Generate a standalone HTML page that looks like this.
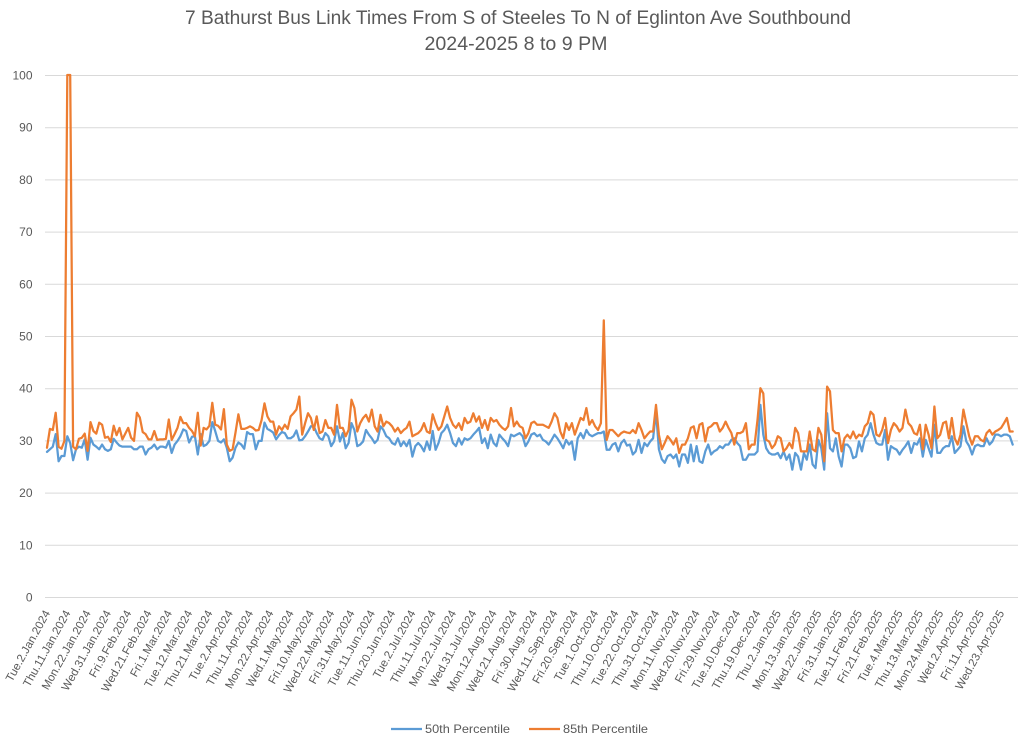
<!DOCTYPE html>
<html><head><meta charset="utf-8"><style>
html,body{margin:0;padding:0;background:#fff;}
svg{display:block;}
text{font-family:"Liberation Sans",Arial,sans-serif;fill:#595959;}
</style></head><body>
<svg width="1024" height="743" viewBox="0 0 1024 743" xmlns="http://www.w3.org/2000/svg">
<rect width="1024" height="743" fill="#fff"/>
<text x="518" y="24" font-size="19" text-anchor="middle" textLength="666" lengthAdjust="spacingAndGlyphs">7 Bathurst Bus Link Times From S of Steeles To N of Eglinton Ave Southbound</text>
<text x="516" y="50" font-size="19" text-anchor="middle" textLength="183" lengthAdjust="spacingAndGlyphs">2024-2025 8 to 9 PM</text>
<g stroke="#D9D9D9" stroke-width="1">
<line x1="45" y1="75.5" x2="1018" y2="75.5"/>
<line x1="45" y1="127.7" x2="1018" y2="127.7"/>
<line x1="45" y1="179.9" x2="1018" y2="179.9"/>
<line x1="45" y1="232.1" x2="1018" y2="232.1"/>
<line x1="45" y1="284.3" x2="1018" y2="284.3"/>
<line x1="45" y1="336.5" x2="1018" y2="336.5"/>
<line x1="45" y1="388.7" x2="1018" y2="388.7"/>
<line x1="45" y1="440.9" x2="1018" y2="440.9"/>
<line x1="45" y1="493.1" x2="1018" y2="493.1"/>
<line x1="45" y1="545.3" x2="1018" y2="545.3"/>
<line x1="45" y1="597.5" x2="1018" y2="597.5"/>
</g>
<g font-size="12" text-anchor="end">
<text x="32.5" y="79.5">100</text>
<text x="32.5" y="131.7">90</text>
<text x="32.5" y="183.9">80</text>
<text x="32.5" y="236.1">70</text>
<text x="32.5" y="288.3">60</text>
<text x="32.5" y="340.5">50</text>
<text x="32.5" y="392.7">40</text>
<text x="32.5" y="444.9">30</text>
<text x="32.5" y="497.1">20</text>
<text x="32.5" y="549.3">10</text>
<text x="32.5" y="601.5">0</text>
</g>
<g transform="matrix(2.9,0,0,-5.22,47,597)" fill="none" stroke-linejoin="round" stroke-linecap="round">
<polyline vector-effect="non-scaling-stroke" stroke="#5B9BD5" stroke-width="2.25" points="0,27.8 1,28.3 2,28.8 3,31.2 4,26 5,27 6,27 7,30.8 8,29.5 9,26.2 10,28.3 11,28.8 12,28.6 13,30.2 14,26.3 15,30.5 16,29.2 17,28.8 18,28.3 19,29.2 20,28.3 21,28 22,28.3 23,30.3 24,29.6 25,29 26,28.8 27,28.8 28,28.8 29,28.8 30,28.3 31,28.3 32,28.8 33,28.8 34,27.3 35,28.3 36,28.6 37,29.2 38,28.3 39,28.8 40,28.8 41,28.6 42,29.9 43,27.6 44,29.2 45,29.9 46,30.8 47,32.1 48,31.8 49,29.6 50,30.7 51,30.8 52,27.3 53,31.2 54,28.9 55,29.2 56,29.9 57,33.5 58,31.8 59,29.9 60,29.6 61,30.2 62,28.6 63,26 64,26.7 65,28.6 66,29.6 67,29.2 68,28.4 69,31.6 70,31.2 71,31.2 72,28.3 73,29.9 74,29.9 75,33.4 76,32.2 77,31.9 78,31.5 79,30.2 80,31 81,31.6 82,31.4 83,30.4 84,30.4 85,30.8 86,31.9 87,30 88,30.1 89,30.8 90,31.7 91,32.7 92,32.7 93,31.4 94,30.4 95,30.1 96,31.4 97,30.8 98,28.9 99,29.8 100,32.7 101,29.8 102,31.4 103,28.5 104,29.5 105,33.3 106,32 107,28.9 108,29.2 109,29.8 110,32 111,31.1 112,30.4 113,29.5 114,30.1 115,32.7 116,32 117,30.8 118,30.4 119,29.5 120,29.2 121,30.4 122,28.9 123,29.8 124,28.9 125,30.1 126,26.9 127,28.9 128,29.5 129,28.9 130,27.9 131,29.8 132,28.2 133,31.8 134,28.2 135,29.5 136,31.4 137,32 138,33 139,31.4 140,29.5 141,28.9 142,30.4 143,29.2 144,30.4 145,30.1 146,30.4 147,31.1 148,31.7 149,32.4 150,29.5 151,30.4 152,28.5 153,31.1 154,29.5 155,28.9 156,31.1 157,30.4 158,29.8 159,28.9 160,31.1 161,30.8 162,31.1 163,31.4 164,30.8 165,28.9 166,29.8 167,31.1 168,31.4 169,30.8 170,31.1 171,30.1 172,29.8 173,29.2 174,30.1 175,31.1 176,30.4 177,29.5 178,28.5 179,30.1 180,29.2 181,29.8 182,26.3 183,30.4 184,31.4 185,30.4 186,32 187,31.1 188,30.8 189,31.1 190,31.4 191,31.4 192,31.7 193,28.2 194,28.2 195,29.2 196,29.5 197,27.9 198,29.5 199,30.1 200,29 201,29.2 202,27.3 203,27.9 204,30.1 205,27.6 206,29.5 207,28.9 208,29.8 209,30.4 210,35.5 211,28.3 212,26.4 213,25.7 214,27 215,27.3 216,26.6 217,27.3 218,25 219,27.3 220,27.3 221,25.7 222,29.2 223,26 224,28.9 225,26 226,25.7 227,27.9 228,29.2 229,27.3 230,27.9 231,28.2 232,28.9 233,28.5 234,29.2 235,29.2 236,30.1 237,30.4 238,29.5 239,28.9 240,26.3 241,26.3 242,27.3 243,27.3 244,27.3 245,27.9 246,36.8 247,31.1 248,28.5 249,27.6 250,27.3 251,27.3 252,27.6 253,26.6 254,27.9 255,26.3 256,27.3 257,24.4 258,27.6 259,26.9 260,24.4 261,27.6 262,26.3 263,29.2 264,25.4 265,24.7 266,30.1 267,28.5 268,24.4 269,35.2 270,28.5 271,27.9 272,30.4 273,26.9 274,25 275,29.2 276,29.2 277,28.5 278,26.6 279,26.9 280,29.8 281,27.9 282,30.4 283,31.1 284,33.3 285,31.1 286,29.5 287,29.2 288,29.2 289,32 290,26.3 291,28.9 292,28.5 293,28.2 294,27.3 295,28.2 296,28.9 297,29.8 298,27.6 299,29.5 300,29.2 301,30.4 302,26.9 303,30.1 304,28.5 305,26.9 306,33 307,27.6 308,27.6 309,28.5 310,28.9 311,28.9 312,30.8 313,27.6 314,28.2 315,28.9 316,32.7 317,29.8 318,28.9 319,27.3 320,28.9 321,29.2 322,28.9 323,28.9 324,30.4 325,29.2 326,29.8 327,31.1 328,31.1 329,30.8 330,31.1 331,31.1 332,30.8 333,29.2"/>
<polyline vector-effect="non-scaling-stroke" stroke="#ED7D31" stroke-width="2.25" points="0,28.6 1,32.2 2,32 3,35.3 4,28.8 5,28.4 6,29.9 7,100 8,100 9,28.8 10,28.3 11,30.3 12,30.5 13,31.3 14,28 15,33.5 16,31.8 17,31.3 18,33.4 19,33 20,30.5 21,30.7 22,29.7 23,32.8 24,31 25,32.4 26,30.2 27,31.3 28,32.4 29,30.5 30,29.9 31,35.3 32,34.4 33,31.6 34,31.2 35,30.2 36,30.2 37,31.8 38,30.1 39,30.2 40,30.2 41,30.3 42,34 43,30.1 44,31.2 45,32.4 46,34.5 47,33.3 48,33.3 49,32.4 50,31.8 51,30.8 52,35.3 53,29 54,32.4 55,32.1 56,32.8 57,37.2 58,33 59,32.8 60,32.1 61,36 62,29.2 63,28 64,28.3 65,31.5 66,35 67,32.2 68,32.2 69,32.4 70,32.7 71,32.4 72,31.9 73,32 74,33.9 75,37.1 76,34.6 77,33.6 78,33.6 79,31.1 80,32.7 81,32 82,33 83,32.2 84,34.6 85,35.2 86,35.9 87,38.4 88,31.1 89,33.3 90,35.2 91,34.3 92,32 93,34.6 94,31.4 95,31.7 96,33.9 97,32.4 98,32.4 99,31.1 100,36.8 101,32.4 102,32.4 103,30.8 104,32 105,37.8 106,36.2 107,31.7 108,33.3 109,34.3 110,34.9 111,33.6 112,35.9 113,32.7 114,31.7 115,34.9 116,32.7 117,33.6 118,33.3 119,32.7 120,31.7 121,32.4 122,31.4 123,32 124,32.4 125,33.6 126,30.8 127,31.1 128,31.4 129,32 130,33.3 131,31.7 132,31.4 133,35 134,33.3 135,32 136,32.7 137,34.6 138,36.5 139,34.3 140,33 141,32.4 142,33.3 143,32 144,34.3 145,33.3 146,33.6 147,35.2 148,33.6 149,34.6 150,32.4 151,33.9 152,32 153,34.3 154,33.6 155,33.9 156,33 157,32.4 158,32 159,32.7 160,36.2 161,32.7 162,33.6 163,32.7 164,32.4 165,30.4 166,31.4 167,33.3 168,33.6 169,33 170,33 171,33 172,32.7 173,32.4 174,33.6 175,35.2 176,34.3 177,31.7 178,30.4 179,33.3 180,32 181,33.3 182,31.1 183,32.7 184,34.3 185,33.9 186,36.2 187,33 188,33.9 189,32.7 190,32 191,33.3 192,53 193,30.1 194,32 195,32 196,31.4 197,30.8 198,31.4 199,31.7 200,31.5 201,31.4 202,32 203,31.4 204,33.3 205,32 206,30.4 207,31.1 208,31.7 209,31.7 210,36.8 211,31.1 212,28.3 213,29.5 214,30.8 215,30.1 216,29.2 217,30.4 218,27.6 219,29.2 220,29.2 221,30.4 222,32.4 223,32.7 224,30.4 225,33 226,33.3 227,29.8 228,32.4 229,32.7 230,33.3 231,33.3 232,31.7 233,32.4 234,33.6 235,32.4 236,31.4 237,29.2 238,31.4 239,31.4 240,31.7 241,33.3 242,28.3 243,29.2 244,29.2 245,33.9 246,40 247,39 248,30.1 249,29.8 250,28.5 251,29.2 252,30.8 253,30.4 254,27.9 255,28.5 256,29.5 257,28.5 258,32.4 259,31.4 260,27.9 261,27.9 262,27.9 263,31.7 264,28.3 265,27.9 266,32.4 267,31.1 268,26 269,40.3 270,39.4 271,32 272,31.4 273,31.4 274,27.9 275,30.4 276,31.1 277,30.4 278,31.7 279,30.4 280,31.1 281,30.8 282,32.7 283,33.3 284,35.5 285,34.9 286,31.1 287,30.8 288,32 289,34.3 290,29.5 291,32 292,33.3 293,32.7 294,31.7 295,32.4 296,35.9 297,33.3 298,32.7 299,31.4 300,31.1 301,33 302,28.3 303,33 304,31.1 305,28.5 306,36.5 307,30.4 308,31.1 309,33.3 310,33.6 311,30.4 312,34.3 313,30.4 314,29.2 315,31.1 316,35.9 317,33.3 318,30.8 319,29.2 320,30.8 321,30.8 322,30.1 323,29.8 324,31.4 325,32 326,31.1 327,31.7 328,32 329,32.4 330,33.3 331,34.3 332,31.7 333,31.7"/>
</g>
<g font-size="11.5" text-anchor="end">
<text transform="translate(47,611) rotate(-61)" dy="4">Tue.2.Jan.2024</text>
<text transform="translate(67.3,611) rotate(-61)" dy="4">Thu.11.Jan.2024</text>
<text transform="translate(87.6,611) rotate(-61)" dy="4">Mon.22.Jan.2024</text>
<text transform="translate(107.9,611) rotate(-61)" dy="4">Wed.31.Jan.2024</text>
<text transform="translate(128.2,611) rotate(-61)" dy="4">Fri.9.Feb.2024</text>
<text transform="translate(148.5,611) rotate(-61)" dy="4">Wed.21.Feb.2024</text>
<text transform="translate(168.8,611) rotate(-61)" dy="4">Fri.1.Mar.2024</text>
<text transform="translate(189.1,611) rotate(-61)" dy="4">Tue.12.Mar.2024</text>
<text transform="translate(209.4,611) rotate(-61)" dy="4">Thu.21.Mar.2024</text>
<text transform="translate(229.7,611) rotate(-61)" dy="4">Tue.2.Apr.2024</text>
<text transform="translate(250,611) rotate(-61)" dy="4">Thu.11.Apr.2024</text>
<text transform="translate(270.3,611) rotate(-61)" dy="4">Mon.22.Apr.2024</text>
<text transform="translate(290.6,611) rotate(-61)" dy="4">Wed.1.May.2024</text>
<text transform="translate(310.9,611) rotate(-61)" dy="4">Fri.10.May.2024</text>
<text transform="translate(331.2,611) rotate(-61)" dy="4">Wed.22.May.2024</text>
<text transform="translate(351.5,611) rotate(-61)" dy="4">Fri.31.May.2024</text>
<text transform="translate(371.8,611) rotate(-61)" dy="4">Tue.11.Jun.2024</text>
<text transform="translate(392.1,611) rotate(-61)" dy="4">Thu.20.Jun.2024</text>
<text transform="translate(412.4,611) rotate(-61)" dy="4">Tue.2.Jul.2024</text>
<text transform="translate(432.7,611) rotate(-61)" dy="4">Thu.11.Jul.2024</text>
<text transform="translate(453,611) rotate(-61)" dy="4">Mon.22.Jul.2024</text>
<text transform="translate(473.3,611) rotate(-61)" dy="4">Wed.31.Jul.2024</text>
<text transform="translate(493.6,611) rotate(-61)" dy="4">Mon.12.Aug.2024</text>
<text transform="translate(513.9,611) rotate(-61)" dy="4">Wed.21.Aug.2024</text>
<text transform="translate(534.2,611) rotate(-61)" dy="4">Fri.30.Aug.2024</text>
<text transform="translate(554.5,611) rotate(-61)" dy="4">Wed.11.Sep.2024</text>
<text transform="translate(574.8,611) rotate(-61)" dy="4">Fri.20.Sep.2024</text>
<text transform="translate(595.1,611) rotate(-61)" dy="4">Tue.1.Oct.2024</text>
<text transform="translate(615.4,611) rotate(-61)" dy="4">Thu.10.Oct.2024</text>
<text transform="translate(635.7,611) rotate(-61)" dy="4">Tue.22.Oct.2024</text>
<text transform="translate(656,611) rotate(-61)" dy="4">Thu.31.Oct.2024</text>
<text transform="translate(676.3,611) rotate(-61)" dy="4">Mon.11.Nov.2024</text>
<text transform="translate(696.6,611) rotate(-61)" dy="4">Wed.20.Nov.2024</text>
<text transform="translate(716.9,611) rotate(-61)" dy="4">Fri.29.Nov.2024</text>
<text transform="translate(737.2,611) rotate(-61)" dy="4">Tue.10.Dec.2024</text>
<text transform="translate(757.5,611) rotate(-61)" dy="4">Thu.19.Dec.2024</text>
<text transform="translate(777.8,611) rotate(-61)" dy="4">Thu.2.Jan.2025</text>
<text transform="translate(798.1,611) rotate(-61)" dy="4">Mon.13.Jan.2025</text>
<text transform="translate(818.4,611) rotate(-61)" dy="4">Wed.22.Jan.2025</text>
<text transform="translate(838.7,611) rotate(-61)" dy="4">Fri.31.Jan.2025</text>
<text transform="translate(859,611) rotate(-61)" dy="4">Tue.11.Feb.2025</text>
<text transform="translate(879.3,611) rotate(-61)" dy="4">Fri.21.Feb.2025</text>
<text transform="translate(899.6,611) rotate(-61)" dy="4">Tue.4.Mar.2025</text>
<text transform="translate(919.9,611) rotate(-61)" dy="4">Thu.13.Mar.2025</text>
<text transform="translate(940.2,611) rotate(-61)" dy="4">Mon.24.Mar.2025</text>
<text transform="translate(960.5,611) rotate(-61)" dy="4">Wed.2.Apr.2025</text>
<text transform="translate(980.8,611) rotate(-61)" dy="4">Fri.11.Apr.2025</text>
<text transform="translate(1001.1,611) rotate(-61)" dy="4">Wed.23.Apr.2025</text>
</g>
<line x1="391" y1="729" x2="422" y2="729" stroke="#5B9BD5" stroke-width="2.25"/>
<text x="425" y="733" font-size="12" textLength="85" lengthAdjust="spacingAndGlyphs">50th Percentile</text>
<line x1="529" y1="729" x2="560" y2="729" stroke="#ED7D31" stroke-width="2.25"/>
<text x="563" y="733" font-size="12" textLength="85" lengthAdjust="spacingAndGlyphs">85th Percentile</text>
</svg>
</body></html>
